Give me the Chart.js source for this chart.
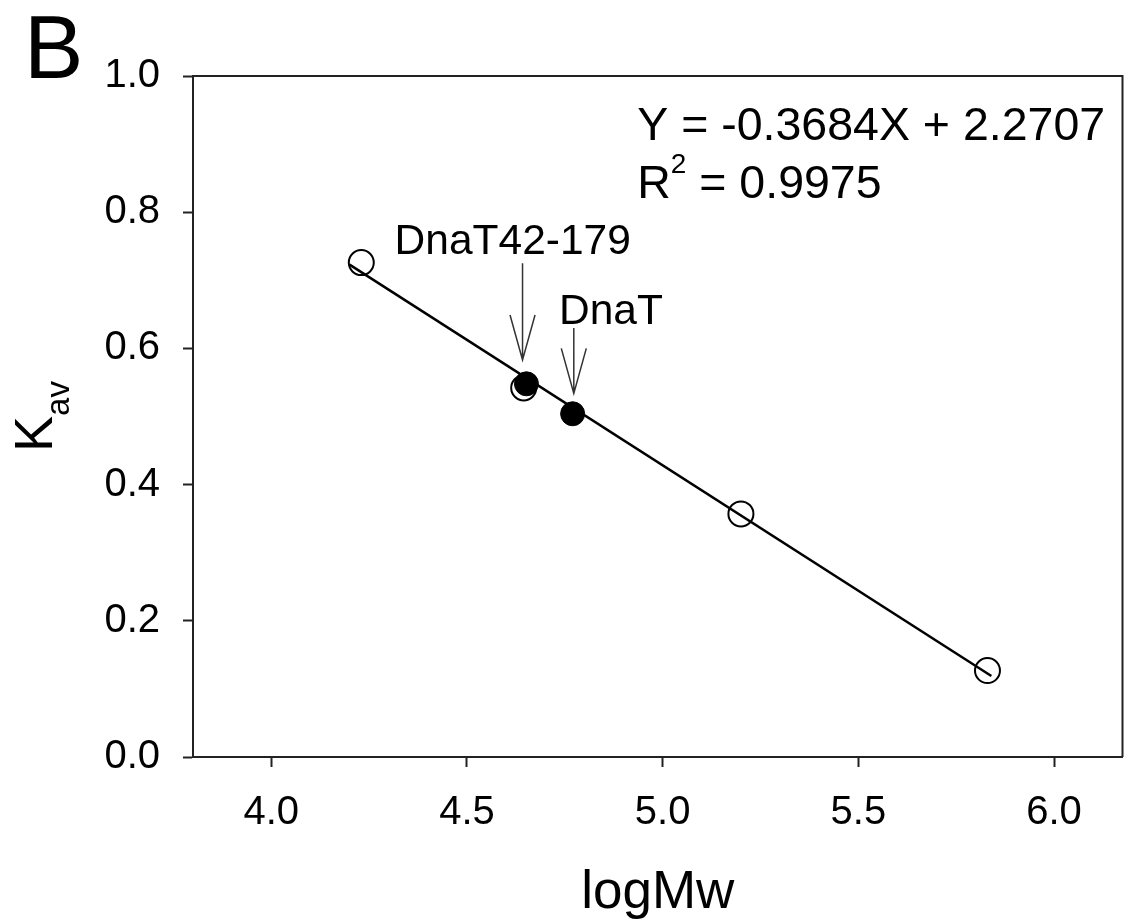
<!DOCTYPE html>
<html>
<head>
<meta charset="utf-8">
<script src="https://cdn.jsdelivr.net/npm/chart.js@4/dist/chart.umd.min.js"></script>
<style>
  html, body { margin: 0; padding: 0; background: #fff; }
  canvas { display: block; }
</style>
</head>
<body>
<canvas id="kavChart" width="1137" height="920"></canvas>
<script>
// values
var standardsX = [4.23, 4.645, 5.20, 5.83];
var standardsY = [0.726, 0.542, 0.357, 0.127];
var dnatX = [4.652, 4.770];
var dnatY = [0.548, 0.504];
var fitX = [4.20, 5.84];
var fitY = [0.723, 0.119];
var xTicks = [4.0, 4.5, 5.0, 5.5, 6.0];
var yTicks = [0.0, 0.2, 0.4, 0.6, 0.8, 1.0];
var labels = ['DnaT42-179', 'DnaT'];
var arrowX = [4.642, 4.773];
var arrowTop = [0.725, 0.630];
var arrowTip = [0.583, 0.534];

var FONT = '"Liberation Sans", Arial, Helvetica, sans-serif';

function pts(xs, ys) {
  return xs.map(function (x, i) { return { x: x, y: ys[i] }; });
}

var decor = {
  id: 'decor',
  afterDraw: function (chart) {
    var ctx = chart.ctx;
    var a = chart.chartArea;
    var xs = chart.scales.x, ys = chart.scales.y;
    ctx.save();
    // top and right frame
    ctx.strokeStyle = '#222';
    ctx.lineWidth = 2;
    ctx.beginPath();
    ctx.moveTo(a.left, a.top);
    ctx.lineTo(a.right, a.top);
    ctx.lineTo(a.right, a.bottom);
    ctx.stroke();

    ctx.fillStyle = '#000';
    ctx.textBaseline = 'alphabetic';

    // panel letter
    ctx.font = '89px ' + FONT;
    ctx.textAlign = 'left';
    ctx.fillText('B', 24, 78);

    // x title
    ctx.font = '53px ' + FONT;
    ctx.textAlign = 'center';
    ctx.fillText('logMw', (a.left + a.right) / 2, 908);

    // y title K_av, rotated
    ctx.save();
    var midY = (a.top + a.bottom) / 2;
    ctx.font = '54px ' + FONT;
    var wK = ctx.measureText('K').width;
    ctx.font = '33px ' + FONT;
    var wSub = ctx.measureText('av').width;
    ctx.translate(52, midY + (wK + wSub) / 2);
    ctx.rotate(-Math.PI / 2);
    ctx.textAlign = 'left';
    ctx.font = '54px ' + FONT;
    ctx.fillText('K', 0, 0);
    ctx.font = '33px ' + FONT;
    ctx.fillText('av', wK, 17);
    ctx.restore();

    // regression text
    var ex = xs.getPixelForValue(4.935);
    ctx.textAlign = 'left';
    ctx.font = '46.5px ' + FONT;
    ctx.fillText('Y = -0.3684X + 2.2707', ex, ys.getPixelForValue(0.906));
    var rY = ys.getPixelForValue(0.821);
    ctx.fillText('R', ex, rY);
    var wR = ctx.measureText('R').width;
    ctx.font = '28px ' + FONT;
    ctx.fillText('2', ex + wR, rY - 25);
    var w2 = ctx.measureText('2').width;
    ctx.font = '46.5px ' + FONT;
    ctx.fillText(' = 0.9975', ex + wR + w2, rY);

    // protein labels
    ctx.font = '42.5px ' + FONT;
    ctx.textAlign = 'center';
    ctx.fillText(labels[0], xs.getPixelForValue(4.617), ys.getPixelForValue(0.738));
    ctx.fillText(labels[1], xs.getPixelForValue(4.868), ys.getPixelForValue(0.636));

    // arrows
    ctx.strokeStyle = '#333';
    ctx.lineWidth = 1.5;
    for (var i = 0; i < arrowX.length; i++) {
      var px = xs.getPixelForValue(arrowX[i]);
      var top = ys.getPixelForValue(arrowTop[i]);
      var tip = ys.getPixelForValue(arrowTip[i]);
      ctx.beginPath();
      ctx.moveTo(px, top);
      ctx.lineTo(px, tip);
      ctx.moveTo(px - 12.5, tip - 45);
      ctx.lineTo(px, tip);
      ctx.lineTo(px + 12.5, tip - 45);
      ctx.stroke();
    }
    ctx.restore();
  }
};

var axisCommon = {
  border: { display: true, color: '#222', width: 2 },
  grid: {
    display: true,
    drawOnChartArea: false,
    drawTicks: true,
    tickLength: 10,
    tickWidth: 2,
    tickColor: '#222',
    color: '#222'
  }
};

new Chart(document.getElementById('kavChart').getContext('2d'), {
  type: 'scatter',
  data: {
    datasets: [
      {
        label: 'DnaT',
        data: pts(dnatX, dnatY),
        order: 0,
        pointRadius: 12,
        pointBackgroundColor: '#000',
        pointBorderColor: '#000',
        pointBorderWidth: 1
      },
      {
        label: 'standards',
        data: pts(standardsX, standardsY),
        order: 1,
        pointRadius: 12.5,
        pointBackgroundColor: 'rgba(0,0,0,0)',
        pointBorderColor: '#000',
        pointBorderWidth: 2
      },
      {
        label: 'fit',
        type: 'line',
        data: pts(fitX, fitY),
        order: 2,
        showLine: true,
        borderColor: '#000',
        borderWidth: 2.5,
        pointRadius: 0,
        fill: false
      }
    ]
  },
  options: {
    responsive: false,
    animation: false,
    devicePixelRatio: 1,
    layout: { padding: { top: 76, right: 8, left: 0, bottom: 0 } },
    plugins: { legend: { display: false }, tooltip: { enabled: false } },
    scales: {
      x: Object.assign({}, axisCommon, {
        type: 'linear',
        min: 3.8,
        max: 6.175,
        afterBuildTicks: function (s) { s.ticks = xTicks.map(function (v) { return { value: v }; }); },
        afterFit: function (s) { s.height = 163; },
        ticks: {
          color: '#000',
          padding: 22,
          maxRotation: 0,
          font: { family: FONT, size: 40 },
          callback: function (v) { return Number(v).toFixed(1); }
        }
      }),
      y: Object.assign({}, axisCommon, {
        type: 'linear',
        min: 0,
        max: 1.0,
        afterBuildTicks: function (s) { s.ticks = yTicks.map(function (v) { return { value: v }; }); },
        afterFit: function (s) { s.width = 193; },
        ticks: {
          color: '#000',
          padding: 23,
          font: { family: FONT, size: 40 },
          callback: function (v) { return Number(v).toFixed(1); }
        }
      })
    }
  },
  plugins: [decor]
});
</script>
</body>
</html>
